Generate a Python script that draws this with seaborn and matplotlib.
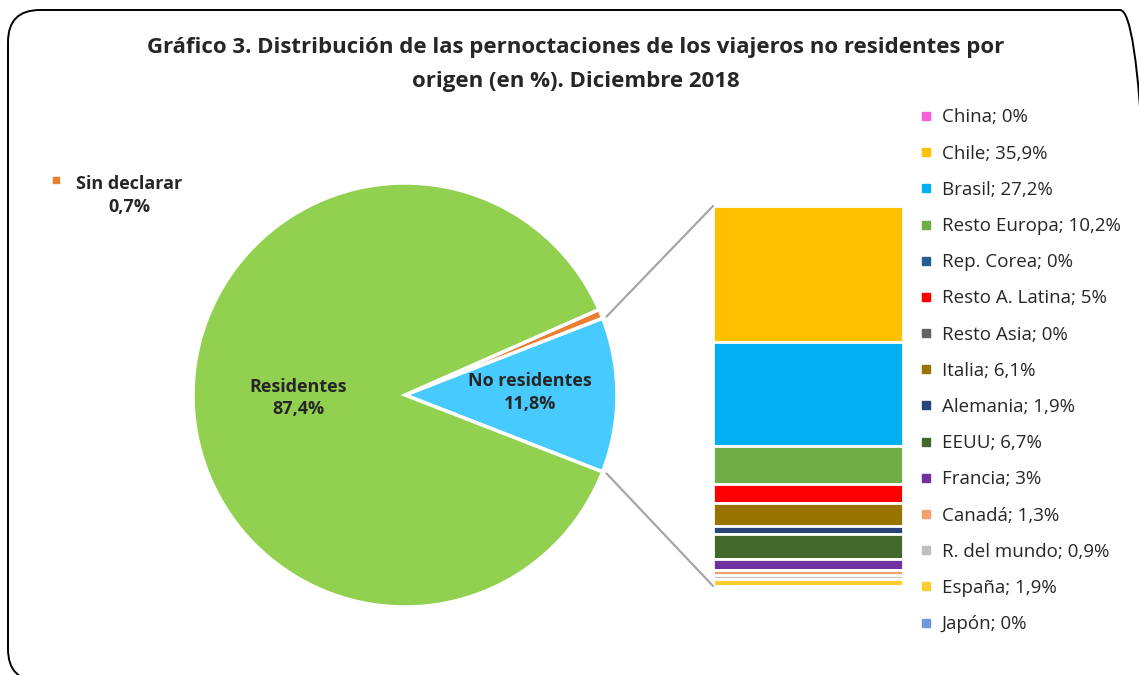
import numpy as np
import matplotlib.pyplot as plt
import seaborn as sns
from matplotlib.patches import ConnectionPatch, FancyBboxPatch
from matplotlib.lines import Line2D

# Pie data
pie_labels = ['No residentes', 'Sin declarar', 'Residentes']
pie_values = [11.8, 0.7, 87.4]
pie_colors = ['#47CBFF', '#ED7D31', '#92D050']

# Breakdown of non residents (legend order = stack order top to bottom)
origins = ['China', 'Chile', 'Brasil', 'Resto Europa', 'Rep. Corea', 'Resto A. Latina',
           'Resto Asia', 'Italia', 'Alemania', 'EEUU', 'Francia', 'Canadá',
           'R. del mundo', 'España', 'Japón']
origin_values = [0, 35.9, 27.2, 10.2, 0, 5, 0, 6.1, 1.9, 6.7, 3, 1.3, 0.9, 1.9, 0]
origin_colors = ['#F65FD9', '#FFC000', '#00B0F0', '#70AD47', '#255E91', '#FF0000',
                 '#636363', '#997300', '#264478', '#43682B', '#7030A0', '#F4A070',
                 '#BFBFBF', '#FFCC33', '#6F98DB']

sns.set_theme(style='white')
plt.rcParams['font.family'] = ['Open Sans', 'DejaVu Sans']

W, H = 1139, 675
fig = plt.figure(figsize=(W / 100, H / 100), dpi=100)

# rounded border (display pixels)
fig.patches.append(FancyBboxPatch((8, -6), 1144, 671, boxstyle='round,pad=0,rounding_size=32',
                                  transform=None, fill=False, edgecolor='black', linewidth=1.4))

fig.text(576 / W, 1 - 48 / H, 'Gráfico 3. Distribución de las pernoctaciones de los viajeros no residentes por',
         ha='center', va='center', fontsize=16, fontweight='bold')
fig.text(576 / W, 1 - 81 / H, 'origen (en %). Diciembre 2018',
         ha='center', va='center', fontsize=16, fontweight='bold')

# pie
cx, cy, r = 405, 395, 212
ax_pie = fig.add_axes([(cx - r) / W, 1 - (cy + r) / H, 2 * r / W, 2 * r / H])
start = -pie_values[0] / sum(pie_values) * 360 / 2
wedges, _ = ax_pie.pie(pie_values, colors=pie_colors, startangle=start, counterclock=True,
                       wedgeprops=dict(edgecolor='white', linewidth=2.5))
ax_pie.set_xlim(-1, 1)
ax_pie.set_ylim(-1, 1)
ax_pie.set_aspect('equal')
ax_pie.axis('off')
for w in wedges:
    w.set_clip_on(False)

ax_pie.text(-0.505, -0.014, 'Residentes\n87,4%', ha='center', va='center',
            fontsize=13, fontweight='bold', linespacing=1.35)
ax_pie.text(0.59, 0.01, 'No residentes\n11,8%', ha='center', va='center',
            fontsize=13, fontweight='bold', linespacing=1.35)
ax_pie.text(-1.30, 0.94, 'Sin declarar\n0,7%', ha='center', va='center',
            fontsize=13, fontweight='bold', linespacing=1.35)
ax_pie.plot([-1.645], [1.015], marker='s', markersize=5, color=pie_colors[1], clip_on=False)

# stacked bar
bx0, bx1, by0, by1 = 713, 903, 206, 586
ax_bar = fig.add_axes([bx0 / W, 1 - by1 / H, (bx1 - bx0) / W, (by1 - by0) / H])
total = sum(origin_values)
top = total
handles = []
for name, val, col in zip(origins, origin_values, origin_colors):
    ax_bar.bar(0, val, bottom=top - val, width=1, color=col, edgecolor='white', linewidth=2)
    top -= val
    handles.append(Line2D([], [], marker='s', linestyle='', markersize=5.5, color=col,
                          label=f"{name}; {str(val).replace('.', ',')}%"))
ax_bar.set_xlim(-0.5, 0.5)
ax_bar.set_ylim(0, total)
ax_bar.axis('off')

# connector lines
a = np.deg2rad(start + pie_values[0] / sum(pie_values) * 360)
b = np.deg2rad(start)
for (px, py), (qx, qy) in [((np.cos(a), np.sin(a)), (-0.5, total)),
                           ((np.cos(b), np.sin(b)), (-0.5, 0))]:
    con = ConnectionPatch(xyA=(px * 1.02, py * 1.02), coordsA=ax_pie.transData,
                          xyB=(qx, qy), coordsB=ax_bar.transData,
                          color='#A6A6A6', linewidth=1.6)
    fig.add_artist(con)

fig.legend(handles=handles, loc='upper left',
           bbox_to_anchor=(911 / W, 1 - 101 / H), frameon=False, fontsize=13.5,
           handlelength=0.8, handletextpad=0.45, labelspacing=0.97, borderaxespad=0)

fig.savefig('out.png', dpi=100)
